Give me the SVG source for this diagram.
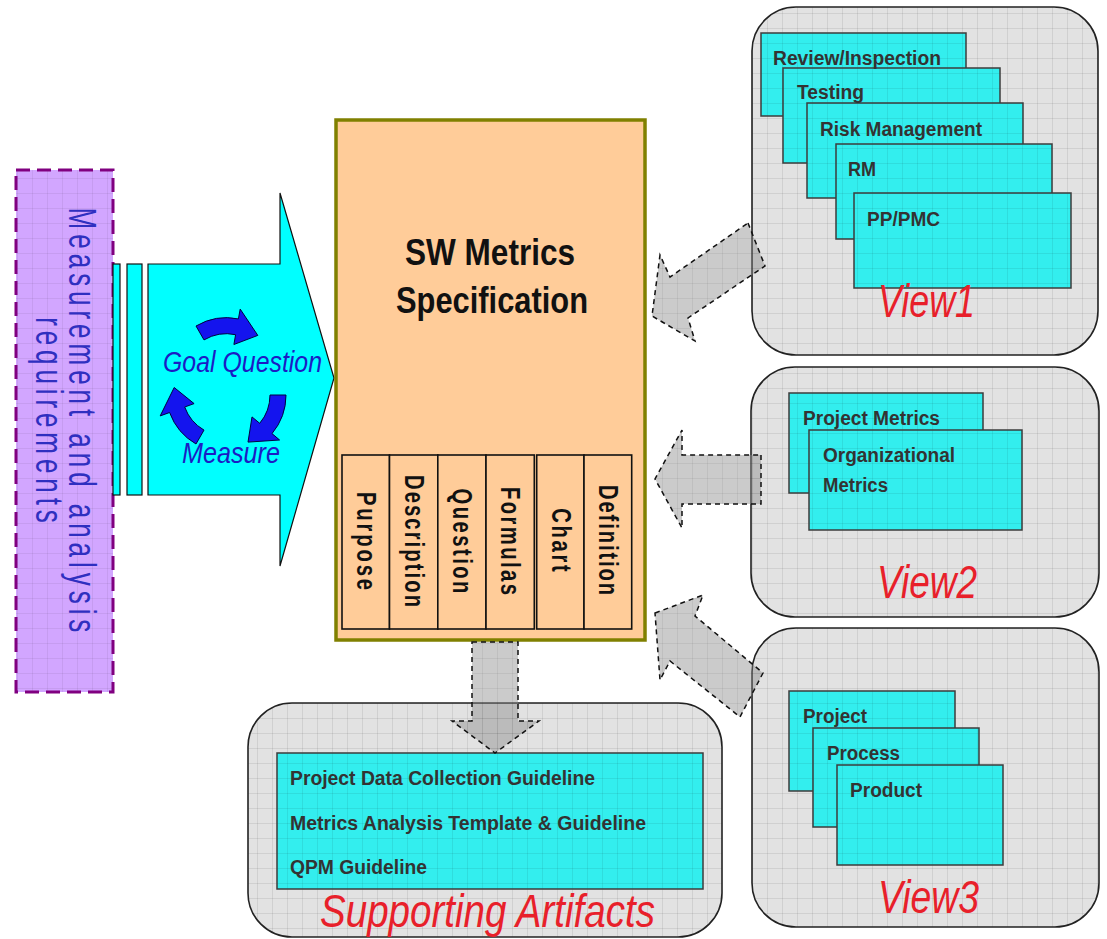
<svg xmlns="http://www.w3.org/2000/svg" width="1107" height="939" viewBox="0 0 1107 939">
  <defs>
    <!-- textured fills: base colour with a fine 15px grid, aligned across the page -->
    <pattern id="pg" patternUnits="userSpaceOnUse" x="2" y="13" width="15" height="15">
      <rect width="15" height="15" fill="#e2e2e2"/>
      <path d="M0 0.5H15M0.5 0V15" stroke="#000" stroke-opacity="0.08" stroke-width="1"/>
    </pattern>
    <pattern id="pc" patternUnits="userSpaceOnUse" x="2" y="13" width="15" height="15">
      <rect width="15" height="15" fill="#33eeee"/>
      <path d="M0 0.5H15M0.5 0V15" stroke="#000" stroke-opacity="0.07" stroke-width="1"/>
    </pattern>
    <pattern id="pp" patternUnits="userSpaceOnUse" x="2" y="13" width="15" height="15">
      <rect width="15" height="15" fill="#d2a6ff"/>
      <path d="M0 0.5H15M0.5 0V15" stroke="#000" stroke-opacity="0.06" stroke-width="1"/>
    </pattern>
    <pattern id="pa" patternUnits="userSpaceOnUse" x="2" y="13" width="15" height="15">
      <rect width="15" height="15" fill="#8c8c8c" fill-opacity="0.45"/>
      <path d="M0 0.5H15M0.5 0V15" stroke="#000" stroke-opacity="0.06" stroke-width="1"/>
    </pattern>
    <style>
      .view { fill: url(#pg); stroke: #222; stroke-width: 1.6; }
      .card { fill: url(#pc); stroke: #3c3c3c; stroke-width: 1.5; }
      .lbl { font-family: "Liberation Sans", Arial, sans-serif; font-weight: bold; font-size: 20px; fill: #333; }
      .vname { font-family: "Liberation Sans", Arial, sans-serif; font-style: italic; font-size: 46px; fill: #e8202a; }
      .col { fill: #ffcc99; stroke: #111; stroke-width: 1.6; }
      .coltxt { font-family: "Liberation Sans", Arial, sans-serif; font-weight: bold; font-size: 27px; fill: #111; }
      .flow { fill: url(#pa); stroke: #111; stroke-width: 1.5; stroke-dasharray: 5 4; }
      .gqm { font-family: "Liberation Sans", Arial, sans-serif; font-style: italic; font-size: 29px; fill: #1c1cc4; }
      .circ { fill: #1414ee; stroke: #000040; stroke-width: 1; }
    </style>
  </defs>

  <!-- input block: measurement & analysis requirements -->
  <g id="ma-requirements">
    <rect x="16" y="170" width="97" height="522" fill="url(#pp)" stroke="#800080" stroke-width="3" stroke-dasharray="14 7"/>
    <g font-family="Liberation Sans, Arial, sans-serif" font-size="39" fill="#2f2fc0" text-anchor="middle">
      <text transform="translate(69,420) rotate(90) scale(0.67,1)" textLength="634" lengthAdjust="spacing">Measurement and analysis</text>
      <text transform="translate(36,420) rotate(90) scale(0.67,1)" textLength="307" lengthAdjust="spacing">requirements</text>
    </g>
  </g>

  <!-- GQM block arrow -->
  <g id="gqm-arrow">
    <rect x="113" y="264" width="7" height="231" fill="#00ffff" stroke="#111" stroke-width="1.2"/>
    <rect x="127" y="264" width="15" height="231" fill="#00ffff" stroke="#111" stroke-width="1.2"/>
    <path d="M148 264H280V193L334 378L280 566V495H148Z" fill="#00ffff" stroke="#111" stroke-width="1.2"/>
    <!-- cycle arrows -->
    <path class="circ" d="M196 326 A60 60 0 0 1 238.4 318.9 L240.2 309.1 L257.8 335.4 L233.9 344.5 L235.6 334.7 A44 44 0 0 0 204 339.9 Z"/>
    <path class="circ" d="M286 395 A60 60 0 0 1 272 433.6 L279.6 440 L248 442.1 L252 416.9 L259.7 423.3 A44 44 0 0 0 270 395 Z"/>
    <path class="circ" d="M196 444 A60 60 0 0 1 169.6 412.5 L160.2 415.9 L174.2 387.5 L194.1 403.6 L184.7 407 A44 44 0 0 0 204 430.1 Z"/>
    <text class="gqm" x="163" y="372" textLength="159" lengthAdjust="spacingAndGlyphs">Goal Question</text>
    <text class="gqm" x="182" y="463" textLength="98" lengthAdjust="spacingAndGlyphs">Measure</text>
  </g>

  <!-- central specification -->
  <g id="sw-metrics-spec">
    <rect x="336" y="120" width="309" height="520" fill="#ffcc99" stroke="#808000" stroke-width="3.5"/>
    <g font-family="Liberation Sans, Arial, sans-serif" font-weight="bold" font-size="37" fill="#111" text-anchor="middle">
      <text x="490" y="265" textLength="170" lengthAdjust="spacingAndGlyphs">SW Metrics</text>
      <text x="492" y="313" textLength="192" lengthAdjust="spacingAndGlyphs">Specification</text>
    </g>
    <g id="spec-columns">
      <rect class="col" x="342" y="455" width="47.5" height="174"/>
      <rect class="col" x="389.5" y="455" width="48.3" height="174"/>
      <rect class="col" x="437.8" y="455" width="48.2" height="174"/>
      <rect class="col" x="486" y="455" width="48.3" height="174"/>
      <rect class="col" x="536.7" y="455" width="47.3" height="174"/>
      <rect class="col" x="584" y="455" width="47.7" height="174"/>
      <g class="coltxt" text-anchor="middle">
        <text transform="translate(356.5,541) rotate(90) scale(0.75,1)" textLength="131" lengthAdjust="spacing">Purpose</text>
        <text transform="translate(404.5,541) rotate(90) scale(0.75,1)" textLength="176" lengthAdjust="spacing">Description</text>
        <text transform="translate(453,541) rotate(90) scale(0.75,1)" textLength="140" lengthAdjust="spacing">Question</text>
        <text transform="translate(501,541) rotate(90) scale(0.75,1)" textLength="144" lengthAdjust="spacing">Formulas</text>
        <text transform="translate(551.5,540) rotate(90) scale(0.75,1)" textLength="85" lengthAdjust="spacing">Chart</text>
        <text transform="translate(599,540) rotate(90) scale(0.75,1)" textLength="147" lengthAdjust="spacing">Definition</text>
      </g>
    </g>
  </g>

  <!-- View1 -->
  <g id="view1">
    <rect class="view" x="752" y="7" width="346" height="348" rx="44"/>
    <rect class="card" x="761" y="33" width="205" height="83"/>
    <rect class="card" x="783" y="68" width="217" height="95"/>
    <rect class="card" x="807" y="103" width="216" height="95"/>
    <rect class="card" x="836" y="144" width="216" height="95"/>
    <rect class="card" x="854" y="193" width="217" height="95"/>
    <text class="lbl" x="773" y="65" textLength="168" lengthAdjust="spacingAndGlyphs">Review/Inspection</text>
    <text class="lbl" x="797" y="99" textLength="67" lengthAdjust="spacingAndGlyphs">Testing</text>
    <text class="lbl" x="820" y="136" textLength="162" lengthAdjust="spacingAndGlyphs">Risk Management</text>
    <text class="lbl" x="848" y="176" textLength="28" lengthAdjust="spacingAndGlyphs">RM</text>
    <text class="lbl" x="867" y="226" textLength="73" lengthAdjust="spacingAndGlyphs">PP/PMC</text>
    <text class="vname" x="878" y="317" textLength="97" lengthAdjust="spacingAndGlyphs">View1</text>
  </g>

  <!-- View2 -->
  <g id="view2">
    <rect class="view" x="751" y="367" width="348" height="250" rx="44"/>
    <rect class="card" x="789" y="393" width="194" height="100"/>
    <rect class="card" x="809" y="430" width="213" height="100"/>
    <text class="lbl" x="803" y="425" textLength="137" lengthAdjust="spacingAndGlyphs">Project Metrics</text>
    <text class="lbl" x="823" y="462" textLength="132" lengthAdjust="spacingAndGlyphs">Organizational</text>
    <text class="lbl" x="823" y="492" textLength="65" lengthAdjust="spacingAndGlyphs">Metrics</text>
    <text class="vname" x="877" y="598" textLength="100" lengthAdjust="spacingAndGlyphs">View2</text>
  </g>

  <!-- View3 -->
  <g id="view3">
    <rect class="view" x="752" y="628" width="347" height="299" rx="44"/>
    <rect class="card" x="789" y="691" width="166" height="100"/>
    <rect class="card" x="813" y="728" width="166" height="99"/>
    <rect class="card" x="837" y="765" width="166" height="100"/>
    <text class="lbl" x="803" y="723" textLength="64" lengthAdjust="spacingAndGlyphs">Project</text>
    <text class="lbl" x="827" y="760" textLength="73" lengthAdjust="spacingAndGlyphs">Process</text>
    <text class="lbl" x="850" y="797" textLength="72" lengthAdjust="spacingAndGlyphs">Product</text>
    <text class="vname" x="878" y="913" textLength="101" lengthAdjust="spacingAndGlyphs">View3</text>
  </g>

  <!-- Supporting artifacts -->
  <g id="supporting-artifacts">
    <rect class="view" x="248" y="703" width="474" height="234" rx="44"/>
    <rect class="card" x="277" y="753" width="426" height="136"/>
    <text class="lbl" x="290" y="785" textLength="305" lengthAdjust="spacingAndGlyphs">Project Data Collection Guideline</text>
    <text class="lbl" x="290" y="830" textLength="356" lengthAdjust="spacingAndGlyphs">Metrics Analysis Template &amp; Guideline</text>
    <text class="lbl" x="290" y="874" textLength="137" lengthAdjust="spacingAndGlyphs">QPM Guideline</text>
    <text class="vname" x="320" y="927" textLength="335" lengthAdjust="spacingAndGlyphs">Supporting Artifacts</text>
  </g>

  <!-- connectors: dashed block arrows -->
  <g id="connectors">
    <path class="flow" d="M748 223L765 266L688 318L695 341L652 316L660 255L670 277Z"/>
    <path class="flow" d="M761 455V504H682V528L655 479L682 430V455Z"/>
    <path class="flow" d="M655 613L703 595L695 616L763 673L740 717L670 661L660 680Z"/>
    <path class="flow" d="M472 642H518V721H539L495 753L452 721H472Z"/>
  </g>
</svg>
